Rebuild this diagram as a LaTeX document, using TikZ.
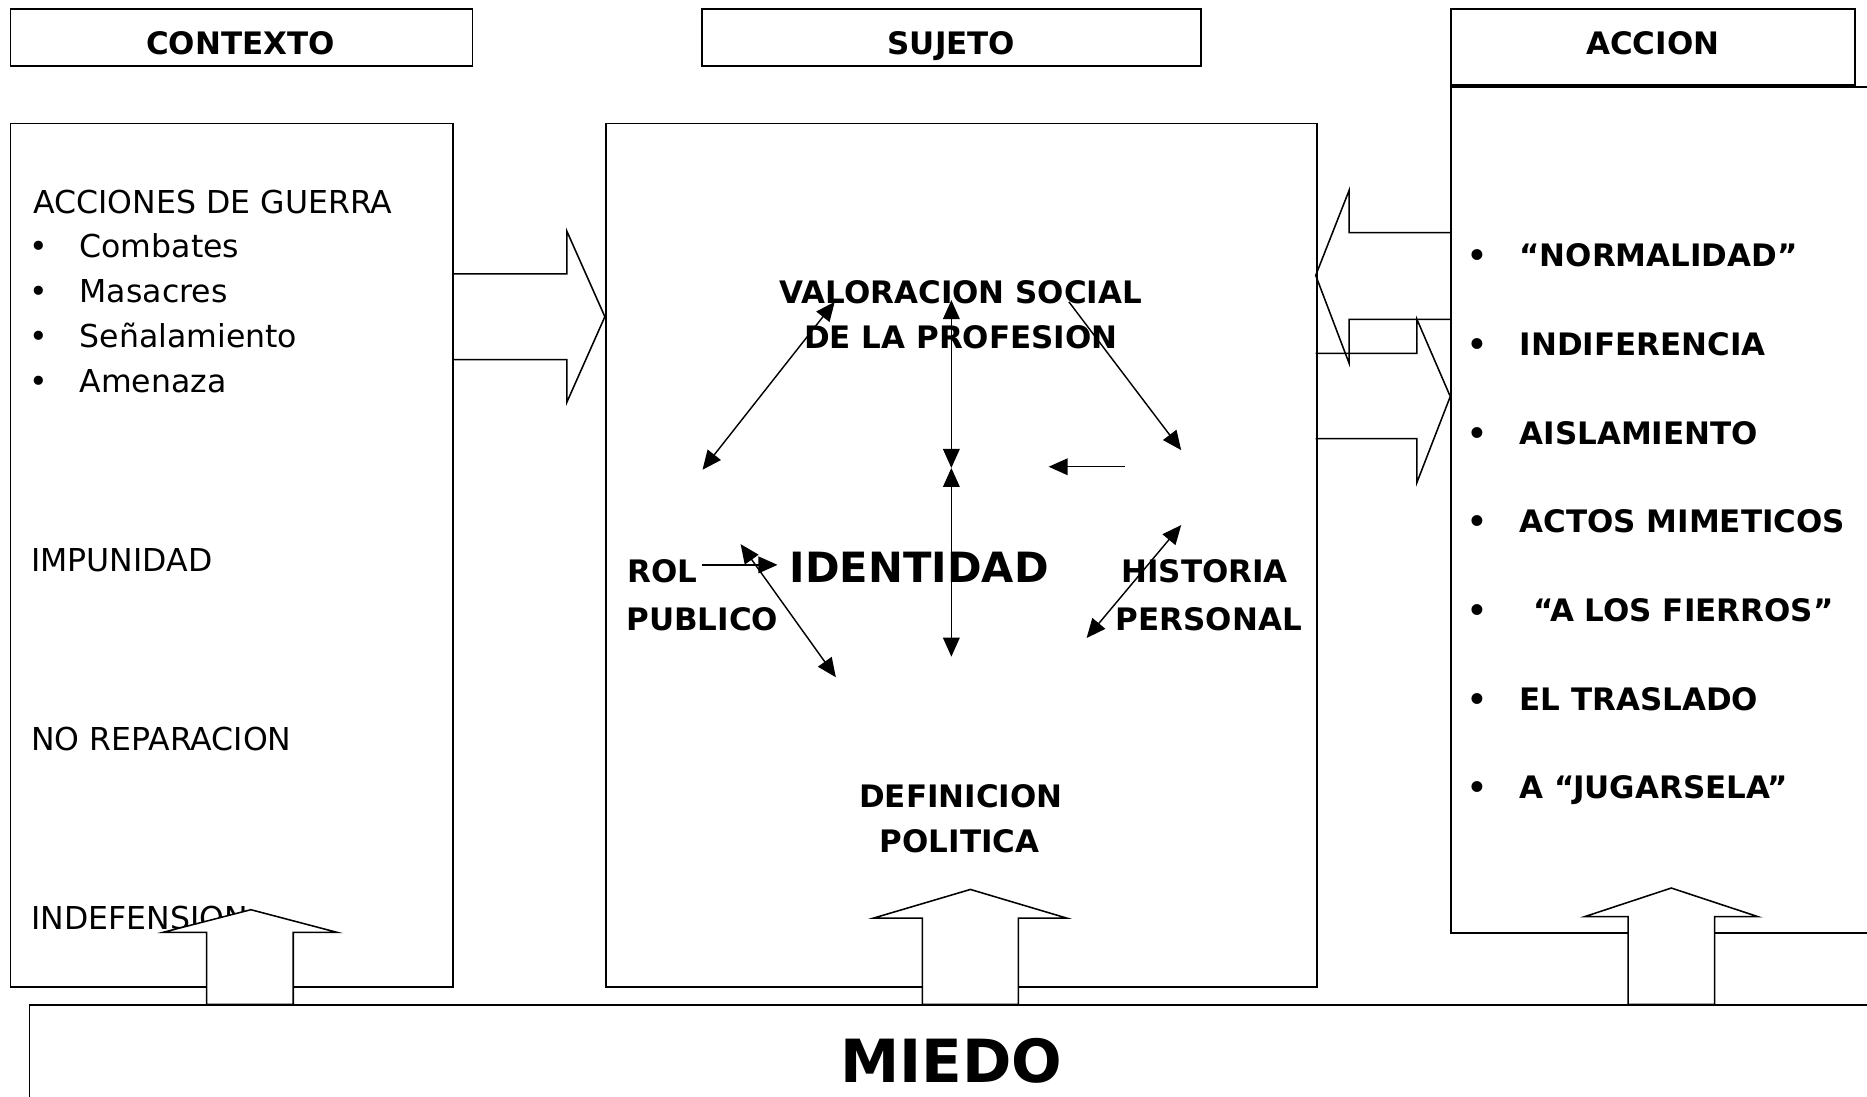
\documentclass[tikz,border=0pt]{standalone}
\usepackage{fontspec}
\setmainfont{DejaVu Sans}
\usetikzlibrary{arrows.meta}
\begin{document}
\begin{tikzpicture}[x=1pt,y=-1pt,
  box/.style={draw, line width=1.5pt, inner sep=0pt, anchor=north west},
  reg/.style={inner sep=0pt, font=\fontsize{26.5}{30}\selectfont},
  bld/.style={inner sep=0pt, font=\fontsize{26}{30}\selectfont\bfseries},
  big/.style={inner sep=0pt, font=\fontsize{35}{40}\selectfont\bfseries},
  huge/.style={inner sep=0pt, font=\fontsize{50}{56}\selectfont\bfseries},
  blockarrow/.style={draw, line width=1.3pt, line join=miter},
  upblock/.style={draw, fill=white, line width=1.3pt, line join=miter},
  arr/.tip={Triangle[length=16pt,width=14pt]},
  link/.style={line width=1.2pt, -arr},
  dlink/.style={line width=1.2pt, arr-arr}]
\useasboundingbox (0,0) rectangle (1568,921);
\clip (0,0) rectangle (1568,921);
\fill[white] (0,0) rectangle (1568,921);

% main boxes
\node[box, minimum width=372, minimum height=725] (ctxbox) at (8,103) {};
\node[box, minimum width=597, minimum height=725] (sujbox) at (508,103) {};
\node[box, minimum width=420, minimum height=710] (accbox) at (1218,72.5) {};
\node[box, minimum width=1600, minimum height=200] (miedo) at (24,843.6) {};

% headers
\node[box, minimum width=388, minimum height=48] (hctx) at (8,7) {};
\node[box, minimum width=419, minimum height=48] (hsuj) at (589,7) {};
\node[box, minimum width=339, minimum height=63.5] (hacc) at (1218,7) {};
\node[bld, anchor=base] (tctx) at (202,45.4) {CONTEXTO};
\node[bld, anchor=base] (tsuj) at (799,45.4) {SUJETO};
\node[bld, anchor=base] (tacc) at (1388,45.7) {ACCION};

% contexto texts
\node[reg, anchor=base west] (guerra) at (28,179) {ACCIONES DE GUERRA};
\foreach \y/\t/\n in {216/Combates/c1, 254/Masacres/c2, 292/Señalamiento/c3, 329.5/Amenaza/c4}{
  \node[reg, anchor=base] (b\n) at (33,\y) {•};
  \node[reg, anchor=base west] (\n) at (66.7,\y) {\t};
}
\node[reg, anchor=base west] (impunidad) at (26,480.3) {IMPUNIDAD};
\node[reg, anchor=base west] (norep) at (26,630.2) {NO REPARACION};
\node[reg, anchor=base west] (indef) at (26,780.5) {INDEFENSION};

% sujeto texts
\node[bld, anchor=base] (val1) at (807,255) {VALORACION SOCIAL};
\node[bld, anchor=base] (val2) at (807,292.7) {DE LA PROFESION};
\node[bld, anchor=base west] (rol1) at (527,488.8) {ROL};
\node[bld, anchor=base west] (rol2) at (526,529.6) {PUBLICO};
\node[big, anchor=base] (ident) at (772,488.8) {IDENTIDAD};
\node[bld, anchor=base west] (hist1) at (941.6,488.8) {HISTORIA};
\node[bld, anchor=base west] (hist2) at (937,529.6) {PERSONAL};
\node[bld, anchor=base] (def1) at (807,678) {DEFINICION};
\node[bld, anchor=base] (def2) at (806,716.3) {POLITICA};

% accion texts
\foreach \y/\t/\x/\n in {224/“NORMALIDAD”/1276/a1, 298.5/INDIFERENCIA/1276/a2, 373/AISLAMIENTO/1276/a3, 447.5/ACTOS MIMETICOS/1276/a4, 522/“A LOS FIERROS”/1288/a5, 596.5/EL TRASLADO/1276/a6, 671/A “JUGARSELA”/1276/a7}{
  \node[bld, anchor=base] (b\n) at (1241,\y) {•};
  \node[bld, anchor=base west] (\n) at (\x,\y) {\t};
}

% MIEDO
\node[huge, anchor=base] (tmiedo) at (799,909) {MIEDO};

% horizontal block arrows
\draw[blockarrow] (380,230) -- (476,230) -- (476,194) -- (508,266) -- (476,338) -- (476,302) -- (380,302);
\draw[blockarrow] (1218,195.4) -- (1133,195.4) -- (1133,160) -- (1105,231.3) -- (1133,305) -- (1133,268.2) -- (1218,268.2);
\draw[blockarrow] (1105,296.7) -- (1190,296.7) -- (1190,268.2) -- (1218,333) -- (1190,405.2) -- (1190,368.4) -- (1105,368.4);

% upward block arrows from MIEDO
\draw[upblock] (173.6,843.6) -- (173.6,783) -- (137,783) -- (210.7,764) -- (283,783) -- (246.3,783) -- (246.3,843.6) -- cycle;
\draw[upblock] (774.6,843.6) -- (774.6,771) -- (733.8,771) -- (815,747) -- (895.7,771) -- (855.2,771) -- (855.2,843.6) -- cycle;
\draw[upblock] (1367.3,843.6) -- (1367.3,769.8) -- (1331,769.8) -- (1403.6,745.8) -- (1476.3,769.8) -- (1440,769.8) -- (1440,843.6) -- cycle;

% thin arrows
\coordinate (v1) at (701,253.5);
\coordinate (v2) at (590,394.5);
\coordinate (t1) at (799,252);
\coordinate (t2) at (799,393);
\coordinate (t3) at (799,551.5);
\coordinate (r1) at (897.7,253.5);
\coordinate (r2) at (992,378);
\coordinate (s1) at (944.5,392);
\coordinate (s2) at (880.7,392);
\coordinate (p1) at (589.4,474.4);
\coordinate (p2) at (653,474.4);
\coordinate (q1) at (622,457);
\coordinate (q2) at (702,568.8);
\coordinate (h1) at (992,441);
\coordinate (h2) at (912.6,535.8);
\draw[dlink] (v1) -- (v2);
\draw[dlink] (t1) -- (t2);
\draw[dlink] (t2) -- (t3);
\draw[link] (r1) -- (r2);
\draw[link] (s1) -- (s2);
\draw[link] (p1) -- (p2);
\draw[dlink] (q1) -- (q2);
\draw[dlink] (h1) -- (h2);
\end{tikzpicture}
\end{document}
